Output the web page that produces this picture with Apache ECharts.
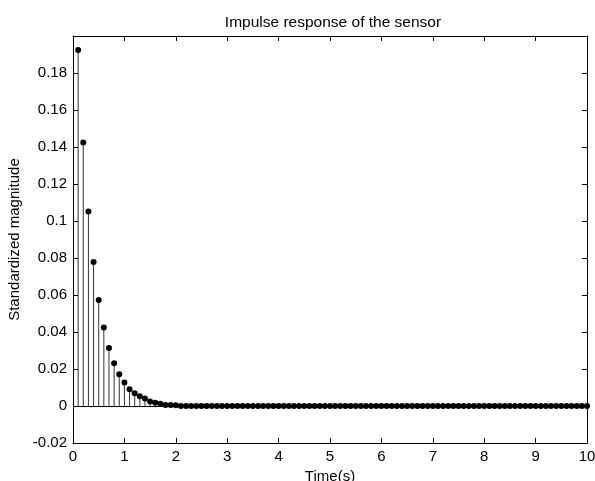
<!DOCTYPE html>
<html>
<head>
<meta charset="utf-8">
<script src="https://cdn.jsdelivr.net/npm/echarts@6/dist/echarts.min.js"></script>
<style>
  html, body { margin: 0; padding: 0; background: #fff; }
  #chart { width: 595px; height: 481px; }
</style>
</head>
<body>
<div id="chart"></div>
<script>
// sample times (s), one every 0.1 s
var times = [
  0.1, 0.2, 0.3, 0.4, 0.5, 0.6, 0.7, 0.8, 0.9, 1.0,
  1.1, 1.2, 1.3, 1.4, 1.5, 1.6, 1.7, 1.8, 1.9, 2.0,
  2.1, 2.2, 2.3, 2.4, 2.5, 2.6, 2.7, 2.8, 2.9, 3.0,
  3.1, 3.2, 3.3, 3.4, 3.5, 3.6, 3.7, 3.8, 3.9, 4.0,
  4.1, 4.2, 4.3, 4.4, 4.5, 4.6, 4.7, 4.8, 4.9, 5.0,
  5.1, 5.2, 5.3, 5.4, 5.5, 5.6, 5.7, 5.8, 5.9, 6.0,
  6.1, 6.2, 6.3, 6.4, 6.5, 6.6, 6.7, 6.8, 6.9, 7.0,
  7.1, 7.2, 7.3, 7.4, 7.5, 7.6, 7.7, 7.8, 7.9, 8.0,
  8.1, 8.2, 8.3, 8.4, 8.5, 8.6, 8.7, 8.8, 8.9, 9.0,
  9.1, 9.2, 9.3, 9.4, 9.5, 9.6, 9.7, 9.8, 9.9, 10.0
];

// standardized magnitude
var magnitude = [
  0.1924, 0.1425, 0.1052, 0.0779, 0.0573, 0.0424, 0.0313, 0.0231, 0.0171, 0.0127,
  0.0090, 0.0069, 0.0053, 0.0040, 0.0025, 0.0018, 0.0012, 0.0006, 0.0005, 0.0004,
  0, 0, 0, 0, 0, 0, 0, 0, 0, 0,
  0, 0, 0, 0, 0, 0, 0, 0, 0, 0,
  0, 0, 0, 0, 0, 0, 0, 0, 0, 0,
  0, 0, 0, 0, 0, 0, 0, 0, 0, 0,
  0, 0, 0, 0, 0, 0, 0, 0, 0, 0,
  0, 0, 0, 0, 0, 0, 0, 0, 0, 0,
  0, 0, 0, 0, 0, 0, 0, 0, 0, 0,
  0, 0, 0, 0, 0, 0, 0, 0, 0, 0
];

var titleText = 'Impulse response of the sensor';
var xName = 'Time(s)';
var yName = 'Standardized magnitude';

var chart = echarts.init(document.getElementById('chart'));

var points = times.map(function (t, i) { return [t, magnitude[i]]; });

var font = 'Liberation Sans, Arial, sans-serif';
var tickStyle = { show: true, inside: true, length: 5, lineStyle: { color: '#000', width: 1 } };
var lineStyle = { show: true, onZero: false, lineStyle: { color: '#000', width: 1 } };
var labelStyle = { color: '#000', fontSize: 15, fontFamily: font, margin: 6 };

var option = {
  animation: false,
  backgroundColor: '#fff',
  title: {
    text: titleText,
    left: 328,
    top: 10,
    textAlign: 'center',
    textStyle: { color: '#000', fontSize: 15.5, fontWeight: 'normal', fontFamily: font }
  },
  grid: { left: 73, right: 8, top: 36, bottom: 38, outerBoundsMode: 'none', containLabel: false },
  xAxis: [
    {
      type: 'value', min: 0, max: 10, interval: 1,
      name: xName, nameLocation: 'middle', nameGap: 23,
      nameTextStyle: { color: '#000', fontSize: 15, fontFamily: font },
      axisLine: lineStyle, axisTick: tickStyle, axisLabel: labelStyle,
      splitLine: { show: false }
    },
    {
      type: 'value', min: 0, max: 10, interval: 1, position: 'top',
      axisLine: lineStyle, axisTick: tickStyle, axisLabel: { show: false },
      splitLine: { show: false }
    }
  ],
  yAxis: [
    {
      type: 'value', min: -0.02, max: 0.2, interval: 0.02,
      name: yName, nameLocation: 'middle', nameGap: 50,
      nameTextStyle: { color: '#000', fontSize: 15, fontFamily: font },
      axisLine: lineStyle, axisTick: tickStyle,
      axisLabel: Object.assign({}, labelStyle, { showMaxLabel: false }),
      splitLine: { show: false }
    },
    {
      type: 'value', min: -0.02, max: 0.2, interval: 0.02, position: 'right',
      axisLine: lineStyle, axisTick: tickStyle, axisLabel: { show: false },
      splitLine: { show: false }
    }
  ],
  series: [
    {
      // stems
      type: 'custom',
      data: points,
      renderItem: function (params, api) {
        var top = api.coord([api.value(0), api.value(1)]);
        var base = api.coord([api.value(0), 0]);
        return {
          type: 'line',
          shape: { x1: base[0], y1: base[1], x2: top[0], y2: top[1] },
          style: { stroke: '#333', lineWidth: 1 }
        };
      },
      z: 2
    },
    {
      // stem heads + baseline
      type: 'scatter',
      data: points,
      symbol: 'circle',
      symbolSize: 6,
      itemStyle: { color: '#000', opacity: 1 },
      z: 3,
      markLine: {
        silent: true,
        symbol: 'none',
        label: { show: false },
        lineStyle: { color: '#000', width: 1, type: 'solid', opacity: 1 },
        data: [{ yAxis: 0 }]
      }
    }
  ]
};

chart.setOption(option);
window.addEventListener('resize', chart.resize);
</script>
</body>
</html>
